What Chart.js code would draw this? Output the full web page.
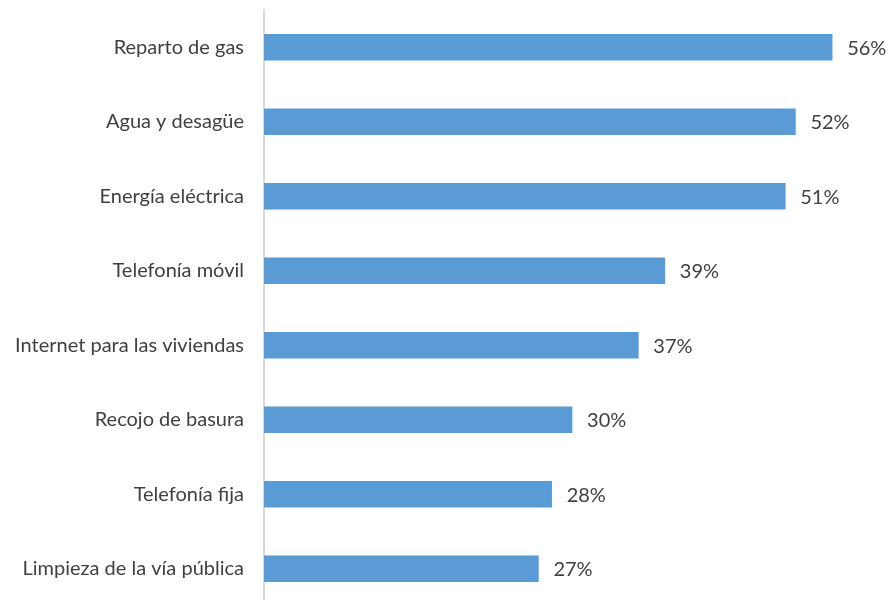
<!DOCTYPE html>
<html>
<head>
<meta charset="utf-8">
<script src="https://cdn.jsdelivr.net/npm/chart.js@4"></script>
<style>
  html, body { margin: 0; padding: 0; background: #fff; overflow: hidden; }
  #wrap { width: 889px; height: 612px; }
</style>
</head>
<body>
<div id="wrap"><canvas id="myChart"></canvas></div>
<script>
const categorias = [
  "Reparto de gas",
  "Agua y desagüe",
  "Energía eléctrica",
  "Telefonía móvil",
  "Internet para las viviendas",
  "Recojo de basura",
  "Telefonía fija",
  "Limpieza de la vía pública"
];
const porcentajes = [55.7, 52.1, 51.1, 39.3, 36.7, 30.2, 28.2, 26.9];

const FUENTE = "Lato, 'Open Sans', sans-serif";

// etiquetas al final de cada barra
const etiquetasBarras = {
  id: "etiquetasBarras",
  afterDatasetsDraw(chart) {
    const ctx = chart.ctx;
    const meta = chart.getDatasetMeta(0);
    ctx.save();
    ctx.font = "20px " + FUENTE;
    ctx.fillStyle = "#404040";
    ctx.textAlign = "left";
    ctx.textBaseline = "middle";
    meta.data.forEach((bar, i) => {
      ctx.fillText(Math.round(porcentajes[i]) + "%", bar.x + 15, bar.y + 1);
    });
    ctx.restore();
  }
};

new Chart(document.getElementById("myChart"), {
  type: "bar",
  data: {
    labels: categorias,
    datasets: [{
      data: porcentajes,
      backgroundColor: "#5B9BD5",
      borderWidth: 0,
      barThickness: 26
    }]
  },
  options: {
    indexAxis: "y",
    responsive: true,
    maintainAspectRatio: false,
    animation: false,
    layout: { padding: { top: 10, bottom: 6, right: 13, left: 0 } },
    plugins: { legend: { display: false }, tooltip: { enabled: false } },
    scales: {
      x: {
        display: false,
        min: 0,
        max: 60
      },
      y: {
        afterFit(scale) {
          scale.width = 264;
          scale.paddingTop = 0;
          scale.paddingBottom = 0;
        },
        grid: { display: false, drawTicks: false },
        border: { display: true, color: "#d9d9d9", width: 2 },
        ticks: {
          padding: 20,
          color: "#404040",
          font: { family: FUENTE, size: 20 }
        }
      }
    }
  },
  plugins: [etiquetasBarras]
});
</script>
</body>
</html>
